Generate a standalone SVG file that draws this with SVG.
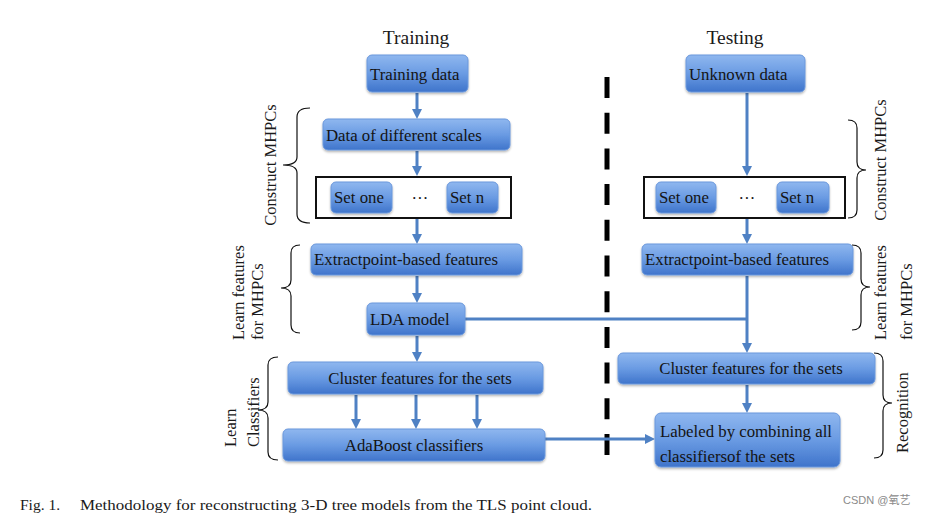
<svg xmlns="http://www.w3.org/2000/svg" width="926" height="516" viewBox="0 0 926 516">
<style>
.box{fill:url(#bg);stroke:#6b98dc;stroke-width:1;filter:url(#sh)}
.bt{font-family:"Liberation Serif","Times New Roman",serif;font-size:16.8px;fill:#141414}
.lab{font-family:"Liberation Serif","Times New Roman",serif;font-size:16.5px;fill:#1a1a1a}
.title{font-family:"Liberation Serif","Times New Roman",serif;font-size:19.5px;fill:#1a1a1a}
.con{stroke:#4f81c4;stroke-width:3;fill:none}
.arr{marker-end:url(#ah)}
.brace{stroke:#111;stroke-width:1.2;fill:none}
.frame{fill:none;stroke:#111;stroke-width:2}
</style>
<defs>
<linearGradient id="bg" x1="0" y1="0" x2="0" y2="1">
<stop offset="0" stop-color="#8fb7ef"/>
<stop offset="0.5" stop-color="#6a9be3"/>
<stop offset="1" stop-color="#3f74cb"/>
</linearGradient>
<filter id="sh" x="-10%" y="-20%" width="120%" height="150%">
<feDropShadow dx="0" dy="1.5" stdDeviation="1" flood-color="#000" flood-opacity="0.3"/>
</filter>
<marker id="ah" viewBox="0 0 10 10" markerWidth="10" markerHeight="12" refX="2" refY="5" orient="auto" markerUnits="userSpaceOnUse">
<path d="M0,0 L10,5 L0,10 z" fill="#4f81c4"/>
</marker>
</defs>
<rect width="926" height="516" fill="#fff"/>

<text class="title" x="416" y="44" text-anchor="middle">Training</text>
<text class="title" x="735" y="44" text-anchor="middle">Testing</text>

<line x1="607" y1="77" x2="607" y2="463" stroke="#000" stroke-width="5" stroke-dasharray="21 14.7"/>

<g id="connectors">
<line class="con arr" x1="417" y1="93" x2="417" y2="111"/>
<line class="con arr" x1="417" y1="151" x2="417" y2="168"/>
<line class="con arr" x1="417" y1="219" x2="417" y2="236"/>
<line class="con arr" x1="417" y1="276" x2="417" y2="295"/>
<line class="con arr" x1="417" y1="336" x2="417" y2="354"/>
<line class="con arr" x1="356" y1="395" x2="356" y2="421"/>
<line class="con arr" x1="416" y1="395" x2="416" y2="421"/>
<line class="con arr" x1="477" y1="395" x2="477" y2="421"/>
<line class="con" x1="465" y1="319" x2="747" y2="319"/>
<line class="con arr" x1="747" y1="93" x2="747" y2="168"/>
<line class="con arr" x1="747" y1="219" x2="747" y2="236"/>
<line class="con arr" x1="747" y1="276" x2="747" y2="345"/>
<line class="con arr" x1="747" y1="385" x2="747" y2="405"/>
<line class="con arr" x1="545" y1="439" x2="647" y2="439"/>
</g>

<g id="training-data"><rect class="box" x="367" y="55" width="101" height="37" rx="5"/><text class="bt" x="370" y="79.5">Training data</text></g>
<g id="data-scales"><rect class="box" x="323" y="119" width="187" height="31" rx="5"/><text class="bt" x="326" y="140.5">Data of different scales</text></g>
<g id="sets-left">
<rect class="frame" x="316" y="177" width="195" height="41"/>
<rect class="box" x="331" y="182" width="61" height="31" rx="5"/><text class="bt" x="334" y="203">Set one</text>
<text class="bt" x="420" y="199" text-anchor="middle">…</text>
<rect class="box" x="447" y="182" width="51" height="31" rx="5"/><text class="bt" x="450" y="203">Set n</text>
</g>
<g id="extract-left"><rect class="box" x="311" y="244" width="211" height="31" rx="5"/><text class="bt" x="314" y="265">Extractpoint-based features</text></g>
<g id="lda"><rect class="box" x="367" y="303" width="98" height="32" rx="5"/><text class="bt" x="370" y="324.5">LDA model</text></g>
<g id="cluster-left"><rect class="box" x="288" y="362" width="255" height="32" rx="5"/><text class="bt" x="420" y="383.5" text-anchor="middle">Cluster features for the sets</text></g>
<g id="adaboost"><rect class="box" x="283" y="429" width="262" height="32" rx="5"/><text class="bt" x="414" y="450.5" text-anchor="middle">AdaBoost classifiers</text></g>

<g id="unknown-data"><rect class="box" x="686" y="55" width="119" height="37" rx="5"/><text class="bt" x="689" y="79.5">Unknown data</text></g>
<g id="sets-right">
<rect class="frame" x="644" y="177" width="201" height="41"/>
<rect class="box" x="656" y="182" width="60" height="31" rx="5"/><text class="bt" x="659" y="203">Set one</text>
<text class="bt" x="747" y="199" text-anchor="middle">…</text>
<rect class="box" x="777" y="182" width="52" height="31" rx="5"/><text class="bt" x="780" y="203">Set n</text>
</g>
<g id="extract-right"><rect class="box" x="642" y="244" width="211" height="31" rx="5"/><text class="bt" x="645" y="265">Extractpoint-based features</text></g>
<g id="cluster-right"><rect class="box" x="618" y="353" width="257" height="31" rx="5"/><text class="bt" x="751" y="374" text-anchor="middle">Cluster features for the sets</text></g>
<g id="labeled"><rect class="box" x="655" y="413" width="185" height="54" rx="6"/><text class="bt" x="660" y="437">Labeled by combining all</text><text class="bt" x="660" y="462">classifiersof the sets</text></g>

<g id="brace-construct-left">
<path class="brace" d="M310,108 Q297,108 297,117 L297,157 Q297,165 283,165 Q297,165 297,173 L297,214 Q297,223 310,223"/>
<text class="lab" transform="rotate(-90 276 165)" x="276" y="165" text-anchor="middle">Construct MHPCs</text>
</g>
<g id="brace-learnfeat-left">
<path class="brace" d="M300,245 Q291,245 291,253 L291,280 Q291,288 281,288 Q291,288 291,296 L291,325 Q291,333 300,333"/>
<text class="lab" transform="rotate(-90 244 340)" x="244" y="340">Learn features</text>
<text class="lab" transform="rotate(-90 263 340)" x="263" y="340">for MHPCs</text>
</g>
<g id="brace-classifiers-left">
<path class="brace" d="M278,357 Q268,357 268,365 L268,402 Q268,410 258,410 Q268,410 268,418 L268,452 Q268,460 278,460"/>
<text class="lab" transform="rotate(-90 236 447)" x="236" y="447">Learn</text>
<text class="lab" transform="rotate(-90 259 447)" x="259" y="447">Classifiers</text>
</g>
<g id="brace-construct-right">
<path class="brace" d="M848,120 Q857,120 857,128 L857,162 Q857,170 866,170 Q857,170 857,178 L857,210 Q857,218 848,218"/>
<text class="lab" transform="rotate(-90 886 160)" x="886" y="160" text-anchor="middle">Construct MHPCs</text>
</g>
<g id="brace-learnfeat-right">
<path class="brace" d="M852,245 Q861,245 861,253 L861,279 Q861,287 870,287 Q861,287 861,295 L861,322 Q861,330 852,330"/>
<text class="lab" transform="rotate(-90 886 340)" x="886" y="340">Learn features</text>
<text class="lab" transform="rotate(-90 912 340)" x="912" y="340">for MHPCs</text>
</g>
<g id="brace-recognition">
<path class="brace" d="M874,353 Q883,353 883,361 L883,395 Q883,403 892,403 Q883,403 883,411 L883,450 Q883,458 874,458"/>
<text class="lab" transform="rotate(-90 908 453)" x="908" y="453">Recognition</text>
</g>

<text font-family="Liberation Serif,'Times New Roman',serif" font-size="15.5" fill="#1a1a1a" x="20" y="510">Fig. 1.</text>
<text font-family="Liberation Serif,'Times New Roman',serif" font-size="15.5" fill="#1a1a1a" x="80" y="510" textLength="512" lengthAdjust="spacingAndGlyphs">Methodology for reconstructing 3-D tree models from the TLS point cloud.</text>
<text font-family="'Liberation Sans','Noto Sans CJK SC',sans-serif" font-size="11" fill="#8a8a8a" x="843" y="504">CSDN @氧艺</text>
</svg>
